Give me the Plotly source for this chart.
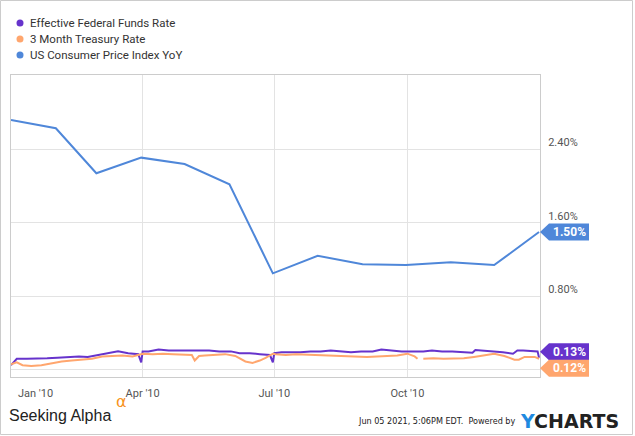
import plotly.graph_objects as go

# ---------------- data ----------------
series_names = ["Effective Federal Funds Rate", "3 Month Treasury Rate", "US Consumer Price Index YoY"]
series_colors = ["#6633cc", "#ffa66e", "#4f87d9"]

cpi_dates = ["2009-12-31", "2010-01-31", "2010-02-28", "2010-03-31", "2010-04-30", "2010-05-31",
             "2010-06-30", "2010-07-31", "2010-08-31", "2010-09-30", "2010-10-31", "2010-11-30",
             "2010-12-31"]
cpi_vals = [2.72, 2.63, 2.14, 2.31, 2.24, 2.02, 1.05, 1.24, 1.15, 1.14, 1.17, 1.14, 1.50]

effr_dates = ["2009-12-31", "2010-01-04", "2010-01-11", "2010-01-19", "2010-01-25", "2010-02-01",
              "2010-02-08", "2010-02-16", "2010-02-22", "2010-03-01", "2010-03-08", "2010-03-15",
              "2010-03-22", "2010-03-29", "2010-03-31", "2010-04-01", "2010-04-05", "2010-04-12",
              "2010-04-19", "2010-04-26", "2010-05-03", "2010-05-10", "2010-05-17", "2010-05-24",
              "2010-06-01", "2010-06-07", "2010-06-14", "2010-06-21", "2010-06-28", "2010-06-30",
              "2010-07-01", "2010-07-06", "2010-07-12", "2010-07-19", "2010-07-26", "2010-08-02",
              "2010-08-09", "2010-08-16", "2010-08-23", "2010-08-30", "2010-09-07", "2010-09-13",
              "2010-09-20", "2010-09-27", "2010-10-04", "2010-10-12", "2010-10-18", "2010-10-25",
              "2010-11-01", "2010-11-08", "2010-11-15", "2010-11-17", "2010-11-22", "2010-11-29",
              "2010-12-06", "2010-12-13", "2010-12-16", "2010-12-20", "2010-12-27", "2010-12-30",
              "2010-12-31"]
effr_vals = [0.05, 0.12, 0.12, 0.12, 0.125, 0.13,
             0.14, 0.145, 0.14, 0.16, 0.175, 0.20,
             0.18, 0.17, 0.08, 0.20, 0.20, 0.22,
             0.21, 0.21, 0.21, 0.21, 0.21, 0.20,
             0.20, 0.18, 0.18, 0.17, 0.16, 0.08,
             0.18, 0.19, 0.19, 0.19, 0.20, 0.20,
             0.21, 0.20, 0.19, 0.20, 0.20, 0.22,
             0.21, 0.20, 0.20, 0.20, 0.21, 0.20,
             0.20, 0.19, 0.185, 0.215, 0.21, 0.20,
             0.19, 0.175, 0.21, 0.21, 0.20, 0.20,
             0.13]

tb3_dates = ["2009-12-31", "2010-01-04", "2010-01-08", "2010-01-14", "2010-01-21", "2010-01-28",
             "2010-02-04", "2010-02-11", "2010-02-18", "2010-02-25", "2010-03-04", "2010-03-11",
             "2010-03-18", "2010-03-25", "2010-04-01", "2010-04-08", "2010-04-15", "2010-04-22",
             "2010-04-29", "2010-05-05", "2010-05-07", "2010-05-10", "2010-05-14", "2010-05-21",
             "2010-05-28", "2010-06-04", "2010-06-11", "2010-06-16", "2010-06-21", "2010-06-25",
             "2010-06-30", "2010-07-02", "2010-07-09", "2010-07-16", "2010-07-23", "2010-07-30",
             "2010-08-06", "2010-08-13", "2010-08-20", "2010-08-27", "2010-09-03", "2010-09-10",
             "2010-09-17", "2010-09-24", "2010-10-01", "2010-10-06", "2010-10-08", "2010-10-11",
             "2010-10-12", "2010-10-19", "2010-10-26", "2010-11-02", "2010-11-09", "2010-11-16",
             "2010-11-23", "2010-11-30", "2010-12-07", "2010-12-14", "2010-12-17", "2010-12-21",
             "2010-12-28", "2010-12-31"]
tb3_vals = [0.06, 0.08, 0.05, 0.04, 0.05, 0.07,
            0.09, 0.10, 0.11, 0.12, 0.145, 0.15,
            0.155, 0.145, 0.175, 0.17, 0.175, 0.17,
            0.165, 0.16, 0.10, 0.15, 0.155, 0.165,
            0.17, 0.15, 0.09, 0.075, 0.10, 0.13,
            0.175, 0.17, 0.16, 0.17, 0.165, 0.16,
            0.16, 0.155, 0.15, 0.145, 0.14, 0.145,
            0.15, 0.155, 0.175, 0.145, 0.12, None,
            0.12, 0.125, 0.12, 0.12, 0.125, 0.14,
            0.155, 0.175, 0.15, 0.11, 0.11, 0.14,
            0.14, 0.12]

x_tick_vals = ["2010-01-17", "2010-04-01", "2010-07-01", "2010-10-01"]
x_tick_text = ["Jan '10", "Apr '10", "Jul '10", "Oct '10"]
x_grid_vals = ["2010-04-01", "2010-07-01", "2010-10-01"]
y_tick_vals = [0, 0.8, 1.6, 2.4]
y_tick_text = ["", "0.80%", "1.60%", "2.40%"]

# ---------------- layout geometry ----------------
W, H = 635, 436
L, R, T, B = 11, 95, 75, 59
PW, PH = W - L - R, H - T - B


def px2paper_x(px):
    return (px - L) / PW


def px2paper_y(py):
    return (H - B - py) / PH


fig = go.Figure()

all_x = [effr_dates, tb3_dates, cpi_dates]
all_y = [effr_vals, tb3_vals, cpi_vals]
for name, col, xs, ys in zip(series_names, series_colors, all_x, all_y):
    fig.add_trace(go.Scatter(x=xs, y=ys, mode="lines", name=name,
                             line=dict(color=col, width=2), showlegend=False,
                             connectgaps=False))

shapes = []
annotations = []

# legend (annotations + dots)
for i, (name, col) in enumerate(zip(series_names, series_colors)):
    cy = 23 + i * 16
    shapes.append(dict(type="circle", xref="paper", yref="paper",
                       xsizemode="pixel", ysizemode="pixel",
                       xanchor=px2paper_x(20), yanchor=px2paper_y(cy),
                       x0=-3.5, x1=3.5, y0=-3.5, y1=3.5,
                       fillcolor=col, line=dict(width=0)))
    annotations.append(dict(text=name, xref="paper", yref="paper",
                            x=px2paper_x(28), y=px2paper_y(cy),
                            xanchor="left", yanchor="middle", showarrow=False,
                            font=dict(family="Roboto", size=11.5, color="#333333")))

# end-value flags (anchored at the right edge of the plot, at each last value)
last_vals = [effr_vals[-1], tb3_vals[-1], cpi_vals[-1]]
flag_shift = [6, -9.5, 0]
for col, yv, sh in zip(series_colors, last_vals, flag_shift):
    path = f"M0,{sh} L9,{sh + 8.5} L49,{sh + 8.5} L49,{sh - 8.5} L9,{sh - 8.5} Z"
    shapes.append(dict(type="path", xref="paper", yref="y",
                       xsizemode="pixel", ysizemode="pixel",
                       xanchor=1, yanchor=yv, path=path,
                       fillcolor=col, line=dict(width=0), layer="above"))
    annotations.append(dict(text=f"{yv:.2f}%", xref="paper", yref="y", x=1, y=yv,
                            xanchor="center", yanchor="middle", xshift=29, yshift=sh,
                            showarrow=False,
                            font=dict(family="Roboto", size=12, color="white", weight="bold")))

# outer frame
shapes.append(dict(type="rect", xref="paper", yref="paper",
                   x0=px2paper_x(0.5), x1=px2paper_x(632.5),
                   y0=px2paper_y(434.5), y1=px2paper_y(0.5),
                   line=dict(color="#cccccc", width=1), layer="below"))

# footer
annotations.append(dict(text="Seeking Alpha", xref="paper", yref="paper",
                        x=px2paper_x(7), y=px2paper_y(415), xanchor="left", yanchor="middle",
                        showarrow=False,
                        font=dict(family="Liberation Sans", size=16, color="#222222")))
annotations.append(dict(text="α", xref="paper", yref="paper",
                        x=px2paper_x(114), y=px2paper_y(401), xanchor="left", yanchor="middle",
                        showarrow=False,
                        font=dict(family="DejaVu Sans", size=16, color="#f7931e")))
annotations.append(dict(text="Jun 05 2021, 5:06PM EDT.  Powered by", xref="paper", yref="paper",
                        x=px2paper_x(517), y=px2paper_y(421), xanchor="right", yanchor="middle",
                        showarrow=False,
                        font=dict(family="Liberation Sans Narrow, DejaVu Sans Condensed, Roboto Condensed, sans-serif",
                                  size=9, color="#222222")))
annotations.append(dict(text="<span style='color:#1f8ae0'>Y</span>CHARTS", xref="paper", yref="paper",
                        x=px2paper_x(518), y=px2paper_y(421), xanchor="left", yanchor="middle",
                        showarrow=False,
                        font=dict(family="DejaVu Sans", size=19, color="#222222", weight="bold")))

fig.update_layout(
    width=W, height=H,
    margin=dict(l=L, r=R, t=T, b=B, pad=0),
    paper_bgcolor="white", plot_bgcolor="white",
    showlegend=False,
    shapes=shapes, annotations=annotations,
    xaxis=dict(type="date", range=["2009-12-31", "2010-12-31 16:00"],
               tickmode="array", tickvals=x_tick_vals, ticktext=x_tick_text,
               showgrid=False, ticks="", ticklabelstandoff=6,
               minor=dict(tickmode="array", tickvals=x_grid_vals, showgrid=True,
                          gridcolor="#e3e3e3", gridwidth=1),
               showline=True, linecolor="#cccccc", linewidth=1, mirror=True,
               tickfont=dict(family="Roboto", size=11, color="#555555"),
               zeroline=False, fixedrange=True),
    yaxis=dict(range=[-0.079, 3.21], side="right",
               tickmode="array", tickvals=y_tick_vals, ticktext=y_tick_text,
               showgrid=True, gridcolor="#e3e3e3", gridwidth=1,
               ticks="", ticklabelshift=-7, ticklabelstandoff=5,
               showline=True, linecolor="#cccccc", linewidth=1, mirror=True,
               tickfont=dict(family="Roboto", size=11, color="#555555"),
               zeroline=False, fixedrange=True),
)

fig.write_html("out.html")
